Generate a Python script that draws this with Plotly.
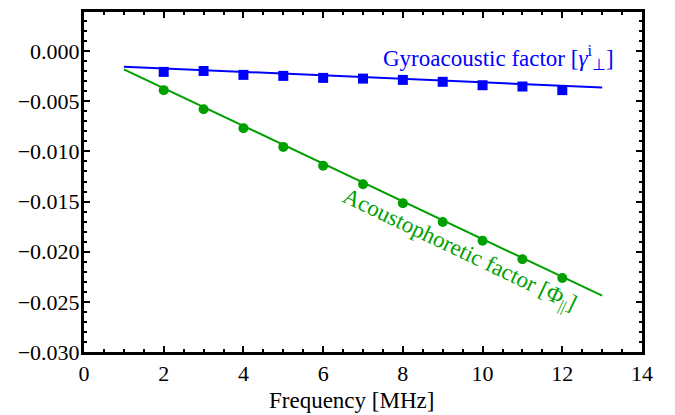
import plotly.graph_objects as go

# Data
freq = [2, 3, 4, 5, 6, 7, 8, 9, 10, 11, 12]
gyro_pts = [-0.00207, -0.00198, -0.00237, -0.00247, -0.00267, -0.00274,
            -0.00287, -0.00306, -0.00340, -0.00353, -0.00389]
acou_pts = [-0.00389, -0.00580, -0.00768, -0.00955, -0.01143, -0.01328,
            -0.01516, -0.01704, -0.01891, -0.02075, -0.02263]
fit_x = [1, 13]
gyro_fit = [-0.00155, -0.00363]
acou_fit = [-0.00182, -0.02438]

x_ticks = [0, 2, 4, 6, 8, 10, 12, 14]
y_ticks = [0.000, -0.005, -0.010, -0.015, -0.020, -0.025, -0.030]

BLUE = "#0000ff"
GREEN = "#00a000"
FONT = "Liberation Serif"

fig = go.Figure()
fig.add_trace(go.Scatter(x=fit_x, y=gyro_fit, mode="lines",
                         line=dict(color=BLUE, width=2), showlegend=False))
fig.add_trace(go.Scatter(x=fit_x, y=acou_fit, mode="lines",
                         line=dict(color=GREEN, width=2), showlegend=False))
fig.add_trace(go.Scatter(x=freq, y=gyro_pts, mode="markers",
                         marker=dict(symbol="square", size=10, color=BLUE),
                         showlegend=False))
fig.add_trace(go.Scatter(x=freq, y=acou_pts, mode="markers",
                         marker=dict(symbol="circle", size=10, color=GREEN),
                         showlegend=False))

fig.add_annotation(x=7.45, y=-0.0006, xref="x", yref="y",
                   text="Gyroacoustic factor [<i>γ</i><sup>i</sup><sub>⊥</sub>]",
                   showarrow=False, xanchor="left", yanchor="middle",
                   font=dict(family=FONT, size=23, color=BLUE))
fig.add_annotation(x=9.42, y=-0.0200, xref="x", yref="y",
                   text="Acoustophoretic factor [Φ<sub>||</sub>]",
                   showarrow=False, textangle=25.5,
                   font=dict(family=FONT, size=23, color=GREEN))
# x-axis title (slightly left of centre, as in the reference)
fig.add_annotation(x=6.71, y=-0.143, xref="x", yref="paper",
                   text="Frequency [MHz]", showarrow=False,
                   xanchor="center", yanchor="middle",
                   font=dict(family=FONT, size=23, color="black"))

axis_common = dict(showline=True, linewidth=3, linecolor="black", mirror="allticks",
                   ticks="inside", ticklen=6, tickwidth=2, tickcolor="black",
                   showgrid=False, zeroline=False,
                   tickfont=dict(family=FONT, size=22, color="black"))

fig.update_xaxes(range=[0, 14], tickvals=x_ticks, ticktext=[str(v) for v in x_ticks],
                 minor=dict(dtick=0.5, ticks="inside", ticklen=3, tickwidth=2, tickcolor="black"),
                 **axis_common)
fig.update_yaxes(range=[-0.030, 0.0039], tickvals=y_ticks, tickformat=".3f",
                 ticklabelstandoff=-3,
                 minor=dict(dtick=0.001, ticks="inside", ticklen=3, tickwidth=2, tickcolor="black"),
                 **axis_common)

fig.update_layout(width=675, height=415, margin=dict(l=84, r=33, t=9, b=63),
                  plot_bgcolor="white", paper_bgcolor="white")

fig.write_html("out.html")
